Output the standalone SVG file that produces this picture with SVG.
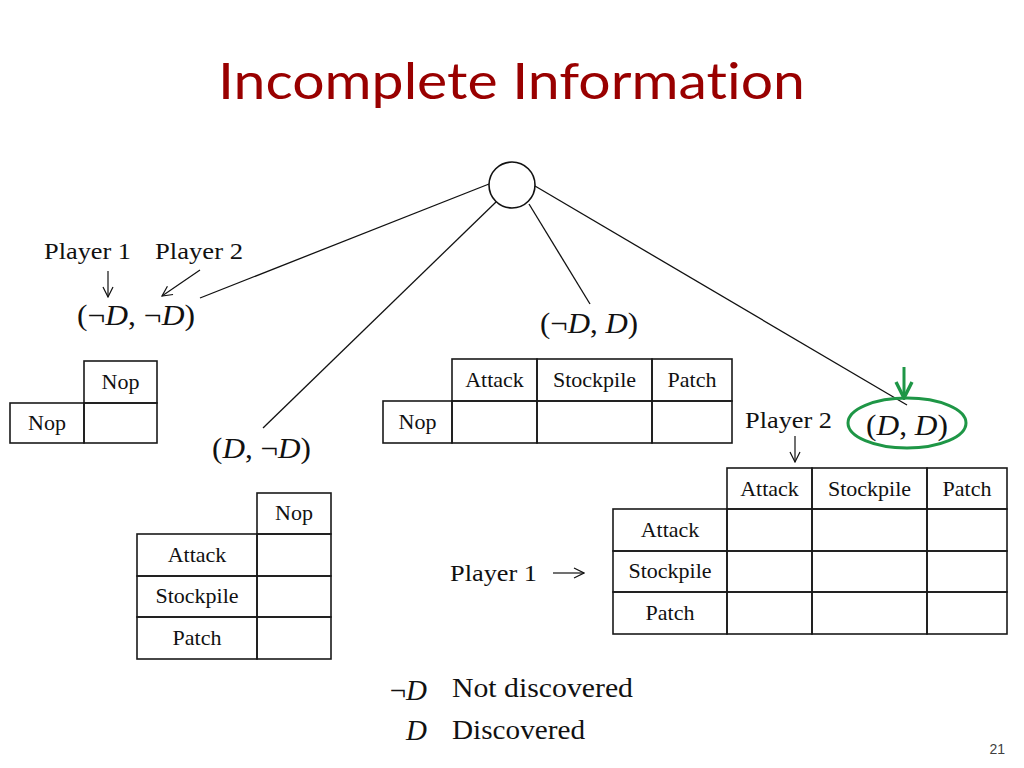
<svg xmlns="http://www.w3.org/2000/svg" width="1024" height="768" viewBox="0 0 1024 768">
<style>
  .title { font-family: Lato, "Liberation Sans", sans-serif; font-size: 50px; fill: #990000; font-variant-ligatures: none; font-feature-settings: "liga" 0, "dlig" 0; }
  .lbl { font-family: "Liberation Serif", serif; font-size: 23px; fill: #111; }
  .cell { font-family: "Liberation Serif", serif; font-size: 22px; fill: #111; text-anchor: middle; }
  .math { font-family: "Liberation Serif", "DejaVu Serif", serif; font-size: 29px; fill: #111; }
  .it { font-style: italic; }
  .grid { fill: none; stroke: #1a1a1a; stroke-width: 1.6; }
  .edge { stroke: #111; stroke-width: 1.3; fill: none; }
  .thin { stroke: #111; stroke-width: 1.2; fill: none; }
  .green { stroke: #1e9646; stroke-width: 3; fill: none; }
  .page { font-family: "Liberation Sans", sans-serif; font-size: 14px; fill: #404040; }
</style>
<defs>
  <marker id="openHead" viewBox="0 0 12 12" refX="11" refY="6" markerWidth="12" markerHeight="12" markerUnits="userSpaceOnUse" orient="auto">
    <path d="M1,1 L11,6 L1,11" fill="none" stroke="#111" stroke-width="1.2"/>
  </marker>
  <marker id="greenHead" viewBox="0 0 20 20" refX="18" refY="10" markerWidth="20" markerHeight="20" markerUnits="userSpaceOnUse" orient="auto">
    <path d="M2,2 L18,10 L2,18" fill="none" stroke="#1e9646" stroke-width="3.4"/>
  </marker>
</defs>

<text class="title" x="218" y="99" textLength="587" lengthAdjust="spacingAndGlyphs">Incomplete Information</text>

<g id="connectors">
  <line class="edge" x1="489" y1="184" x2="200" y2="298"/>
  <line class="edge" x1="496" y1="202" x2="263" y2="428"/>
  <line class="edge" x1="529" y1="204" x2="590" y2="304"/>
  <line class="edge" x1="535" y1="186" x2="907" y2="405"/>
  <line class="thin" x1="108" y1="271" x2="108" y2="297" marker-end="url(#openHead)"/>
  <line class="thin" x1="200" y1="270" x2="162" y2="296" marker-end="url(#openHead)"/>
  <line class="thin" x1="795" y1="436" x2="795" y2="462" marker-end="url(#openHead)"/>
  <line class="thin" x1="553" y1="573" x2="584" y2="573" marker-end="url(#openHead)"/>
  <line class="green" x1="904" y1="367" x2="904" y2="398" marker-end="url(#greenHead)"/>
</g>

<g id="root">
  <circle cx="512" cy="185" r="23" fill="#fff" stroke="#111" stroke-width="1.6"/>
</g>

<g id="node-nDnD">
  <text class="lbl" x="44" y="259" textLength="87" lengthAdjust="spacingAndGlyphs">Player 1</text>
  <text class="lbl" x="155" y="259" textLength="88" lengthAdjust="spacingAndGlyphs">Player 2</text>
  <text class="math" x="77" y="325" textLength="118" lengthAdjust="spacingAndGlyphs">(¬<tspan class="it">D</tspan>, ¬<tspan class="it">D</tspan>)</text>
</g>

<g id="table-nDnD">
  <rect class="grid" x="84" y="361" width="73" height="42"/>
  <rect class="grid" x="10" y="403" width="74" height="40"/>
  <rect class="grid" x="84" y="403" width="73" height="40"/>
  <text class="cell" x="120.5" y="389">Nop</text>
  <text class="cell" x="47" y="430">Nop</text>
</g>

<g id="node-nDD">
  <text class="math" x="540" y="333" textLength="98" lengthAdjust="spacingAndGlyphs">(¬<tspan class="it">D</tspan>, <tspan class="it">D</tspan>)</text>
</g>

<g id="table-nDD">
  <rect class="grid" x="452" y="359" width="85" height="42"/>
  <rect class="grid" x="537" y="359" width="115" height="42"/>
  <rect class="grid" x="652" y="359" width="80" height="42"/>
  <rect class="grid" x="383" y="401" width="69" height="42"/>
  <rect class="grid" x="452" y="401" width="85" height="42"/>
  <rect class="grid" x="537" y="401" width="115" height="42"/>
  <rect class="grid" x="652" y="401" width="80" height="42"/>
  <text class="cell" x="494.5" y="387">Attack</text>
  <text class="cell" x="594.5" y="387">Stockpile</text>
  <text class="cell" x="692" y="387">Patch</text>
  <text class="cell" x="417.5" y="429">Nop</text>
</g>

<g id="node-DnD">
  <text class="math" x="212" y="458" textLength="99" lengthAdjust="spacingAndGlyphs">(<tspan class="it">D</tspan>, ¬<tspan class="it">D</tspan>)</text>
</g>

<g id="table-DnD">
  <rect class="grid" x="257" y="493" width="74" height="41"/>
  <rect class="grid" x="137" y="534" width="120" height="42"/>
  <rect class="grid" x="257" y="534" width="74" height="42"/>
  <rect class="grid" x="137" y="576" width="120" height="41"/>
  <rect class="grid" x="257" y="576" width="74" height="41"/>
  <rect class="grid" x="137" y="617" width="120" height="42"/>
  <rect class="grid" x="257" y="617" width="74" height="42"/>
  <text class="cell" x="294" y="520">Nop</text>
  <text class="cell" x="197" y="562">Attack</text>
  <text class="cell" x="197" y="603">Stockpile</text>
  <text class="cell" x="197" y="645">Patch</text>
</g>

<g id="node-DD">
  <ellipse class="green" cx="907" cy="423" rx="59" ry="25"/>
  <text class="math" x="866" y="435" textLength="82" lengthAdjust="spacingAndGlyphs">(<tspan class="it">D</tspan>, <tspan class="it">D</tspan>)</text>
  <text class="lbl" x="745" y="428" textLength="87" lengthAdjust="spacingAndGlyphs">Player 2</text>
  <text class="lbl" x="450" y="581" textLength="87" lengthAdjust="spacingAndGlyphs">Player 1</text>
</g>

<g id="table-DD">
  <rect class="grid" x="727" y="468" width="85" height="41"/>
  <rect class="grid" x="812" y="468" width="115" height="41"/>
  <rect class="grid" x="927" y="468" width="80" height="41"/>
  <rect class="grid" x="613" y="509" width="114" height="42"/>
  <rect class="grid" x="727" y="509" width="85" height="42"/>
  <rect class="grid" x="812" y="509" width="115" height="42"/>
  <rect class="grid" x="927" y="509" width="80" height="42"/>
  <rect class="grid" x="613" y="551" width="114" height="41"/>
  <rect class="grid" x="727" y="551" width="85" height="41"/>
  <rect class="grid" x="812" y="551" width="115" height="41"/>
  <rect class="grid" x="927" y="551" width="80" height="41"/>
  <rect class="grid" x="613" y="592" width="114" height="42"/>
  <rect class="grid" x="727" y="592" width="85" height="42"/>
  <rect class="grid" x="812" y="592" width="115" height="42"/>
  <rect class="grid" x="927" y="592" width="80" height="42"/>
  <text class="cell" x="769.5" y="496">Attack</text>
  <text class="cell" x="869.5" y="496">Stockpile</text>
  <text class="cell" x="967" y="496">Patch</text>
  <text class="cell" x="670" y="537">Attack</text>
  <text class="cell" x="670" y="578">Stockpile</text>
  <text class="cell" x="670" y="620">Patch</text>
</g>

<g id="legend">
  <text class="math" x="427" y="700" text-anchor="end">¬<tspan class="it">D</tspan></text>
  <text class="math" x="427" y="740" text-anchor="end"><tspan class="it">D</tspan></text>
  <text class="lbl" x="452" y="697" style="font-size:27px" textLength="181" lengthAdjust="spacingAndGlyphs">Not discovered</text>
  <text class="lbl" x="452" y="739" style="font-size:27px" textLength="133" lengthAdjust="spacingAndGlyphs">Discovered</text>
</g>

<text class="page" x="1005" y="754" text-anchor="end">21</text>
</svg>
